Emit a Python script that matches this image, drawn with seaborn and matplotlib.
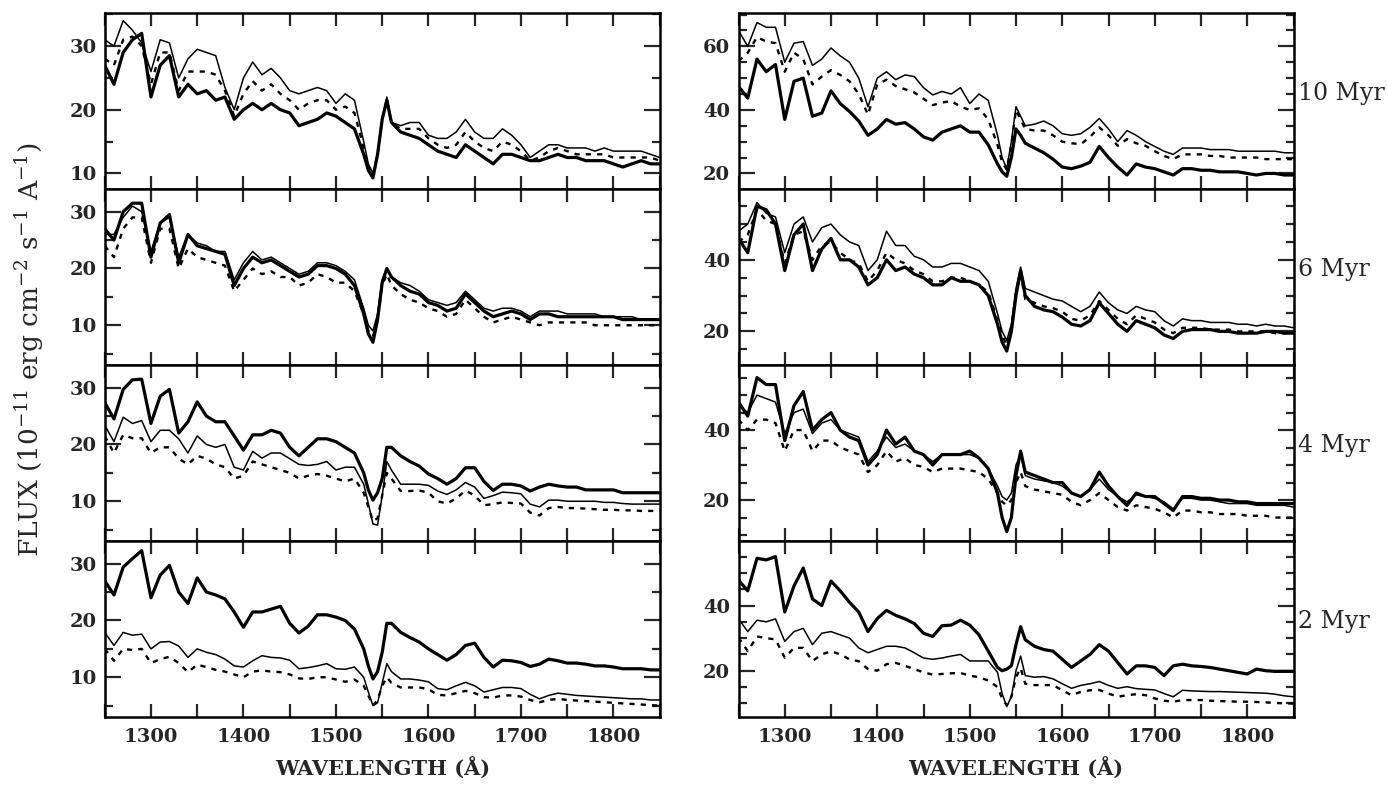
import matplotlib
matplotlib.use("Agg")
import matplotlib.pyplot as plt
from matplotlib.ticker import MultipleLocator
import pandas as pd
import seaborn as sns

# wavelength grid (A), denser around the C IV line
wavelength = [1250, 1260, 1270, 1280, 1290, 1300, 1310, 1320, 1330, 1340,
              1350, 1360, 1370, 1380, 1390, 1400, 1410, 1420, 1430, 1440,
              1450, 1460, 1470, 1480, 1490, 1500, 1510, 1520, 1530, 1535,
              1540, 1545, 1550, 1555, 1560, 1570, 1580, 1590, 1600, 1610,
              1620, 1630, 1640, 1650, 1660, 1670, 1680, 1690, 1700, 1710,
              1720, 1730, 1740, 1750, 1760, 1770, 1780, 1790, 1800, 1810,
              1820, 1830, 1840, 1850]

# ---- left column ----
# 10 Myr
left_10_thick = [27, 24, 29, 31, 32, 22, 27, 28.5, 22, 24,
                 22.5, 23, 21.5, 22, 18.5, 20, 21, 20, 21, 20,
                 19.5, 17.5, 18, 18.5, 19.5, 19, 18, 17, 13, 10.5,
                 9.3, 13, 18.5, 21.5, 18, 16.5, 16, 15.5, 14.5, 13.5,
                 13, 12.5, 14.5, 13.5, 12.5, 11.5, 13, 13, 12.5, 12,
                 12, 12.5, 13, 12.5, 12.5, 12, 12, 12, 11.5, 11,
                 11.5, 12, 11.5, 11.5]
left_10_thin = [31, 30, 34, 32.5, 30.5, 26, 31, 30.5, 25, 28,
                29.5, 29, 28.5, 23.5, 20, 25, 27.5, 25.5, 26.5, 25,
                23, 22.5, 23, 23.5, 23, 21, 22.5, 21.5, 15, 11.5,
                10, 13, 18.5, 22, 18, 17.5, 18, 18, 16, 15.5,
                15.5, 16.5, 18.5, 16.5, 15.5, 15.5, 17, 16, 14.5, 12.5,
                13.5, 14.5, 14.5, 14, 14, 14, 13.5, 14, 13.5, 13.5,
                13.5, 13.5, 13, 12.5]
left_10_dot = [28, 27, 31, 31.5, 30, 24, 29, 29, 23, 26,
               26, 26, 25.5, 23, 19, 22.5, 24.5, 23, 24, 22.5,
               21.5, 20, 21, 21.5, 21.5, 20, 20.5, 19.5, 14, 11,
               9.8, 13, 18.5, 21.5, 18, 17, 17, 17, 15.5, 14.5,
               14, 14.5, 16.5, 15, 14, 13.5, 15, 14.5, 13.5, 12,
               12.5, 13.5, 14, 13.5, 13, 13, 13, 13, 12.5, 12.5,
               12.5, 12.5, 12.5, 12]
# 6 Myr
left_6_thick = [27, 25, 30, 31.5, 31.5, 22, 28, 29.5, 21, 26,
                24, 23.5, 23, 22.5, 17, 20, 22, 21, 21.5, 20.5,
                19.5, 18.5, 19, 20.5, 20.5, 20, 19, 17, 12, 8.5,
                7, 11, 17.5, 20, 18.5, 17, 16, 15.5, 14, 13.5,
                12.5, 13, 15.5, 14, 12.5, 11.5, 12, 12.5, 12, 11,
                12, 12, 11.5, 11.5, 11.5, 11.5, 11.5, 11.5, 11.5, 11,
                11, 11, 11, 11]
left_6_thin = [26, 26, 29, 31, 30, 23, 28, 29, 22, 26,
               24.5, 24, 23, 23, 18, 21, 23, 21.5, 22, 21,
               20, 19, 19.5, 21, 21, 20.5, 19.5, 18, 13, 10,
               9, 12, 18, 20, 18.5, 17.5, 17, 16, 14.5, 14,
               13.5, 14, 16, 14.5, 13, 12.5, 13, 13, 12.5, 11.5,
               12.5, 12.5, 12.5, 12, 12, 12, 12, 11.5, 11.5, 11.5,
               11.5, 11, 11, 11]
left_6_dot = [24, 22, 27, 29, 29, 21, 27, 27, 20, 23.5,
              22, 21.5, 21, 20.5, 16, 18, 20, 19, 19.5, 18.5,
              18.5, 17, 17.5, 19, 18.5, 17.5, 17.5, 16, 12, 9,
              8, 11, 17, 19, 17, 15.5, 14.5, 14, 13, 12.5,
              11.5, 12, 14.5, 13, 11.5, 10.5, 11, 11.5, 11, 10.5,
              10, 10.5, 10.5, 10.5, 10.5, 10.5, 10, 10, 10, 10,
              10, 10, 10, 10]
# 4 Myr
left_4_thick = [27.4, 24.5, 29.7, 31.4, 31.5, 23.7, 28.5, 29.7, 22, 24,
                27.5, 25, 24, 24, 21.5, 19, 21.7, 21.7, 22.5, 22,
                19.5, 18, 19.5, 21, 21, 20.5, 19.5, 18.5, 15, 12,
                10.2, 11.5, 14, 19.5, 19.5, 18, 17, 16.2, 14.8, 14,
                13, 14, 15.9, 15.9, 13.5, 11.9, 13, 13, 12.7, 11.8,
                12.5, 13, 12.7, 12.5, 12.5, 12, 12, 12, 12, 11.5,
                11.5, 11.5, 11.5, 11.5]
left_4_thin = [23.4, 20.5, 24.8, 23.7, 24.2, 20.5, 22.5, 22.5, 21, 18.5,
               21.5, 20, 19.5, 20, 16, 15.5, 18.8, 17.6, 18.5, 18.5,
               17.5, 16.5, 16.3, 16.5, 17, 15.5, 16, 16, 13, 9.6,
               6, 5.8, 11, 17, 15.5, 13, 13, 13, 12.8, 11.8,
               11.2, 12, 13.3, 12.5, 10.5, 11, 11.6, 11.5, 11.3, 9.5,
               9, 10.2, 10.2, 10, 10, 10, 10, 9.8, 9.8, 9.6,
               9.5, 9.5, 9.5, 9.5]
left_4_dot = [21.5, 18.5, 21.7, 21.1, 21.1, 18.5, 19.5, 19.5, 17.5, 16.5,
              18, 17.5, 16.5, 16, 14, 14.5, 17, 16.5, 16, 15.5,
              15, 14, 14.5, 14.8, 14.5, 14, 13.5, 14, 11.5, 9,
              6.5, 7, 11, 15, 14, 11.8, 11.8, 11.9, 11.5, 10,
              9.6, 10.5, 11.9, 11, 9.3, 9.5, 9.8, 9.7, 9.6, 8,
              7.5, 8.8, 9, 8.8, 8.8, 8.7, 8.6, 8.5, 8.5, 8.4,
              8.4, 8.3, 8.3, 8.3]
# 2 Myr
left_2_thick = [27, 24.5, 29.4, 30.9, 32.3, 24, 28, 29.7, 25, 23,
                27.5, 25, 24.5, 23.8, 21.5, 18.8, 21.5, 21.5, 22, 22.5,
                19.5, 17.8, 19, 21, 21, 20.6, 20, 18.5, 15, 12,
                9.7, 11, 14.4, 19.5, 19.5, 17.9, 17, 16.2, 15, 14,
                13, 14, 15.6, 16, 13.5, 11.8, 13, 12.9, 12.6, 11.9,
                12.3, 13.2, 12.9, 12.5, 12.5, 12.3, 12, 12, 11.8, 11.5,
                11.5, 11.5, 11.3, 11.3]
left_2_thin = [17.9, 15.6, 17.9, 17.4, 17.6, 15, 16.2, 16.3, 15.5, 13.5,
               15, 14.4, 14, 13.2, 12, 11.8, 12.9, 13.8, 13.5, 13.4,
               13, 11.5, 11.7, 12, 12.4, 11.5, 11.4, 11.8, 10, 7.4,
               5, 5.5, 9, 12.4, 11, 9.7, 9.7, 9.5, 9.2, 8,
               7.8, 8.5, 9.1, 8.5, 7.4, 7.8, 8.2, 8.2, 8, 7,
               6.2, 6.8, 7.2, 7, 6.8, 6.7, 6.6, 6.5, 6.4, 6.3,
               6.2, 6.2, 6, 6]
left_2_dot = [15, 12.9, 15, 14.8, 15, 12.5, 13.2, 13.6, 12.5, 10.9,
              12.2, 11.8, 11.3, 11, 10.5, 10, 11, 11.2, 11, 10.9,
              10.5, 9.8, 9.7, 10, 10, 9.6, 9.2, 9.6, 8.5, 6.8,
              5, 6, 8.5, 10, 9, 8.2, 8.2, 8.2, 7.9, 6.9,
              6.8, 7.2, 7.6, 7.2, 6.5, 6.4, 6.8, 6.8, 6.6, 6,
              5.6, 6, 6.2, 6, 5.9, 5.8, 5.7, 5.6, 5.5, 5.4,
              5.3, 5.2, 5.1, 5]

# ---- right column ----
# 10 Myr
right_10_thick = [47.4, 43.7, 56, 52, 54.3, 37, 49, 50, 38, 39,
                  46, 42, 39.5, 36.5, 32, 34, 37, 35.5, 36, 34,
                  31.5, 30.5, 33, 34, 35, 33, 33, 29, 23, 20.5,
                  19.1, 25, 34, 32, 29.5, 28, 26.5, 24.5, 22, 21.5,
                  22.3, 23.5, 28.5, 25, 22, 19.5, 23, 22, 21.5, 20.5,
                  19.5, 21.5, 21.5, 21, 21, 20.5, 20.5, 20.5, 20, 19.5,
                  20, 20, 19.5, 19.5]
right_10_thin = [65, 60, 67.5, 66, 66, 55, 61, 61.5, 54, 56,
                 59.5, 57, 55, 50, 41, 50, 52, 49.5, 51, 50.5,
                 47, 44.7, 45.8, 45, 47, 42, 45, 43, 32, 25,
                 21.5, 30, 41, 38, 35, 35.5, 36.5, 35, 32.5, 32,
                 32.5, 34.5, 37.3, 34, 30, 33.5, 32, 30, 28.5, 27,
                 26, 28, 28, 28, 27.5, 27.5, 27.5, 27, 27, 27,
                 27, 27, 26.5, 26.5]
right_10_dot = [55.4, 58, 62.9, 61.5, 61, 52, 58, 56, 48, 50.5,
                52.5, 51, 49, 45, 38.5, 48, 49.5, 47.5, 46.5, 45.5,
                43.5, 41.5, 42.3, 42.8, 41, 40, 40.5, 37, 29, 23.5,
                21.2, 29, 40, 37, 34, 33.5, 33.5, 32, 30, 29.5,
                29.2, 31.5, 34.5, 32, 28.7, 30.8, 29.5, 28.7, 27, 25.5,
                24.5, 26, 26, 26, 25.5, 25.5, 25, 25, 25, 25,
                24.5, 24.5, 24.5, 24.5]
# 6 Myr
right_6_thick = [46, 42, 55, 54, 50, 37, 47, 50, 37, 43,
                 46, 40, 40, 38, 33, 35, 40, 37, 38, 36,
                 35, 33, 33, 35, 34, 34, 33, 30, 22, 17,
                 14.5, 20, 30, 37, 30, 27, 26, 25.5, 24, 22,
                 21.5, 23, 28, 25, 22, 20, 23, 22, 21, 19,
                 18, 20, 20.5, 20.5, 20.5, 20, 20, 19.5, 19.5, 19.5,
                 20, 20, 19.5, 19.5]
right_6_thin = [48, 50, 56, 53, 52, 42, 50, 52, 45, 49,
                50, 47, 45, 44, 37, 40, 48, 44, 44, 41,
                40, 38, 38, 39, 39, 38, 37, 34, 25, 20,
                17.5, 22, 32, 38, 32, 31, 30, 29, 28.5, 27,
                25.5, 27, 31, 28, 26, 25, 27, 26, 25.5, 23,
                21.5, 23.5, 23, 23, 22.5, 22.5, 22.5, 22, 22, 21.5,
                22, 21.5, 21.5, 21]
right_6_dot = [45, 47, 54, 51, 50, 39, 47, 48, 40, 44,
               45, 42, 40, 39, 34, 37, 42, 40, 39, 37,
               36, 34, 34, 35, 35, 34, 33, 31, 23, 19,
               16, 21, 31, 36, 29, 28, 27, 26.5, 25.5, 23.5,
               23, 24.5, 28.5, 26, 23.5, 22, 24.5, 23.5, 22.5, 20.5,
               19.5, 21, 21, 21, 20.5, 20.5, 20.5, 20, 20, 20,
               20, 19.5, 19.5, 19.5]
# 4 Myr
right_4_thick = [48, 44, 55, 53, 53, 37, 47, 51, 40, 43,
                 45, 40, 38, 37, 30, 33, 40, 36, 38, 34,
                 33, 30, 33, 33, 33, 34, 32, 29, 22, 15,
                 11, 15, 27, 34, 28, 27, 26, 25, 25, 22,
                 21, 23, 28, 24, 21, 18.5, 22, 21, 21, 19,
                 17, 21, 21, 20.5, 20.5, 20, 20, 19.5, 19.5, 19,
                 19, 19, 19, 19]
right_4_thin = [47, 45, 50, 49, 48, 39, 45, 46, 39, 42,
                43, 40, 39, 38, 31, 34, 38, 35, 36, 34,
                33, 31, 33, 33, 33, 33, 32, 29, 24, 21,
                20, 22, 30, 33, 27, 26, 25.5, 25, 24, 22,
                21, 23, 26, 23, 21, 19.5, 21.5, 21, 20.5, 19.5,
                17.5, 20.5, 20.5, 20, 20, 19.5, 19, 19, 19, 18.5,
                18.5, 18.5, 18.5, 18]
right_4_dot = [43, 40, 43, 43, 42, 34, 40, 40, 34, 37,
               37, 35, 34, 33, 28, 30, 34, 31, 32, 30,
               29.5, 28, 29, 29, 29, 28.5, 28, 26, 22, 19.5,
               18.5, 20, 25, 28, 24, 23, 22.5, 22, 21.5, 19.5,
               18.5, 20, 22, 20, 18, 17, 18.5, 18, 17.5, 16.5,
               15, 17, 17, 16.5, 16.5, 16, 16, 16, 15.5, 15.5,
               15.5, 15, 15, 15]
# 2 Myr
right_2_thick = [47.8, 44.5, 54.5, 54, 55, 38, 46, 51.5, 42, 40,
                 47.5, 44.5, 41, 38, 32, 36, 38.5, 37, 35.9, 34.5,
                 31.5, 30.5, 33.8, 34, 35.5, 34, 31, 26, 21, 20,
                 20.5, 21.5, 28, 33.5, 29.5, 27.5, 26.5, 26, 23.5, 21,
                 23, 25, 28, 26, 22.5, 19, 21.5, 21.5, 21, 18.5,
                 21.5, 22, 21.5, 21.3, 21, 20.5, 20, 19.5, 19, 20.5,
                 20, 19.8, 19.8, 19.8]
right_2_thin = [35.9, 32, 35.5, 35, 35.9, 29, 32, 33, 28, 31.5,
                32, 31, 30, 27, 25.5, 26.5, 27.5, 27.5, 27, 25.5,
                23.9, 23.5, 23.9, 24.5, 25, 23, 23, 23, 19.5, 13,
                9, 12, 20, 24.5, 18.5, 18, 18.2, 17.5, 16, 14.6,
                15.5, 16, 16.7, 15.5, 14.6, 15.1, 14.5, 14.3, 14.1, 13,
                12, 14, 13.8, 13.7, 13.6, 13.6, 13.5, 13.4, 13.3, 13.2,
                13.1, 12.8, 12.3, 12]
right_2_dot = [30.2, 26, 30.5, 30, 29.6, 24, 27, 27, 23, 25,
               26, 25, 23.5, 22.9, 20.5, 20, 22, 22.4, 21.5, 20.5,
               19.5, 18.8, 19, 19.2, 19.3, 18.5, 18, 17, 15, 11.5,
               9.4, 12, 18, 20.8, 16, 15.6, 15.6, 15.6, 14, 12.5,
               13.5, 14, 14.1, 13, 12, 12.5, 12.8, 12.5, 11.5, 10.8,
               10.5, 11, 11, 11, 10.8, 10.7, 10.6, 10.5, 10.5, 10.4,
               10.3, 10.1, 10, 9.9]

ages = ["10 Myr", "6 Myr", "4 Myr", "2 Myr"]
left_series = [(left_10_thick, left_10_thin, left_10_dot),
               (left_6_thick, left_6_thin, left_6_dot),
               (left_4_thick, left_4_thin, left_4_dot),
               (left_2_thick, left_2_thin, left_2_dot)]
right_series = [(right_10_thick, right_10_thin, right_10_dot),
                (right_6_thick, right_6_thin, right_6_dot),
                (right_4_thick, right_4_thin, right_4_dot),
                (right_2_thick, right_2_thin, right_2_dot)]
left_ylims = [(7.55, 35.2), (3, 34), (3, 34), (3, 34)]
right_ylims = [(15.1, 70.5), (10.6, 59.8), (8.3, 58.6), (5.8, 59.8)]

sns.set_style("ticks")
plt.rcParams['font.family'] = ['DejaVu Serif']
plt.rcParams['mathtext.fontset'] = 'dejavuserif'

W, H = 1387, 786
fig = plt.figure(figsize=(W / 100, H / 100), dpi=100)

col_x = [104.7, 738.5]
col_w = 555
top_px, row_px = 13, 176

styles = [dict(lw=2.3, ls='-'), dict(lw=1.1, ls='-'), dict(lw=1.7, dashes=(2.2, 2.6))]


def draw_panel(ax, series, ylim, major):
    for vals, st in zip(series, styles):
        df = pd.DataFrame({"wl": wavelength, "flux": vals})
        if 'dashes' in st:
            sns.lineplot(data=df, x="wl", y="flux", ax=ax, color="black",
                         lw=st['lw'], estimator=None, sort=False).lines[-1].set_dashes(st['dashes'])
        else:
            sns.lineplot(data=df, x="wl", y="flux", ax=ax, color="black",
                         lw=st['lw'], ls=st['ls'], estimator=None, sort=False)
    ax.set_xlim(1250, 1850)
    ax.set_ylim(*ylim)
    ax.xaxis.set_major_locator(MultipleLocator(100))
    ax.xaxis.set_minor_locator(MultipleLocator(50))
    ax.yaxis.set_major_locator(MultipleLocator(major))
    ax.yaxis.set_minor_locator(MultipleLocator(5))
    ax.tick_params(which='both', direction='in', top=True, right=True, width=1.6,
                   labelsize=14)
    ax.tick_params(axis='x', which='both', length=9.5, pad=8)
    ax.tick_params(axis='y', which='major', length=11.5, pad=6)
    ax.tick_params(axis='y', which='minor', length=6)
    for lab in ax.get_xticklabels() + ax.get_yticklabels():
        lab.set_fontweight('bold')
    for sp in ax.spines.values():
        sp.set_linewidth(1.8)
        sp.set_color('black')
    ax.set_xlabel("")
    ax.set_ylabel("")


for c, (series_list, ylims, major) in enumerate([(left_series, left_ylims, 10),
                                                 (right_series, right_ylims, 20)]):
    for r in range(4):
        bottom = 1 - (top_px + (r + 1) * row_px) / H
        ax = fig.add_axes([col_x[c] / W, bottom, col_w / W, row_px / H])
        draw_panel(ax, series_list[r], ylims[r], major)
        if r < 3:
            ax.tick_params(axis='x', labelbottom=False)
        else:
            ax.set_xlabel("WAVELENGTH (Å)", fontsize=15, fontweight='bold', labelpad=8)
        if c == 1:
            fig.text(1298 / W, bottom + row_px / H / 2 + 0.01, ages[r],
                     fontsize=17, ha='left', va='center')

fig.text(30 / W, 1 - 350 / H, r"FLUX (10$^{-11}$ erg cm$^{-2}$ s$^{-1}$ A$^{-1}$)",
         rotation=90, fontsize=19, ha='center', va='center')

fig.savefig("out.png", dpi=100)
